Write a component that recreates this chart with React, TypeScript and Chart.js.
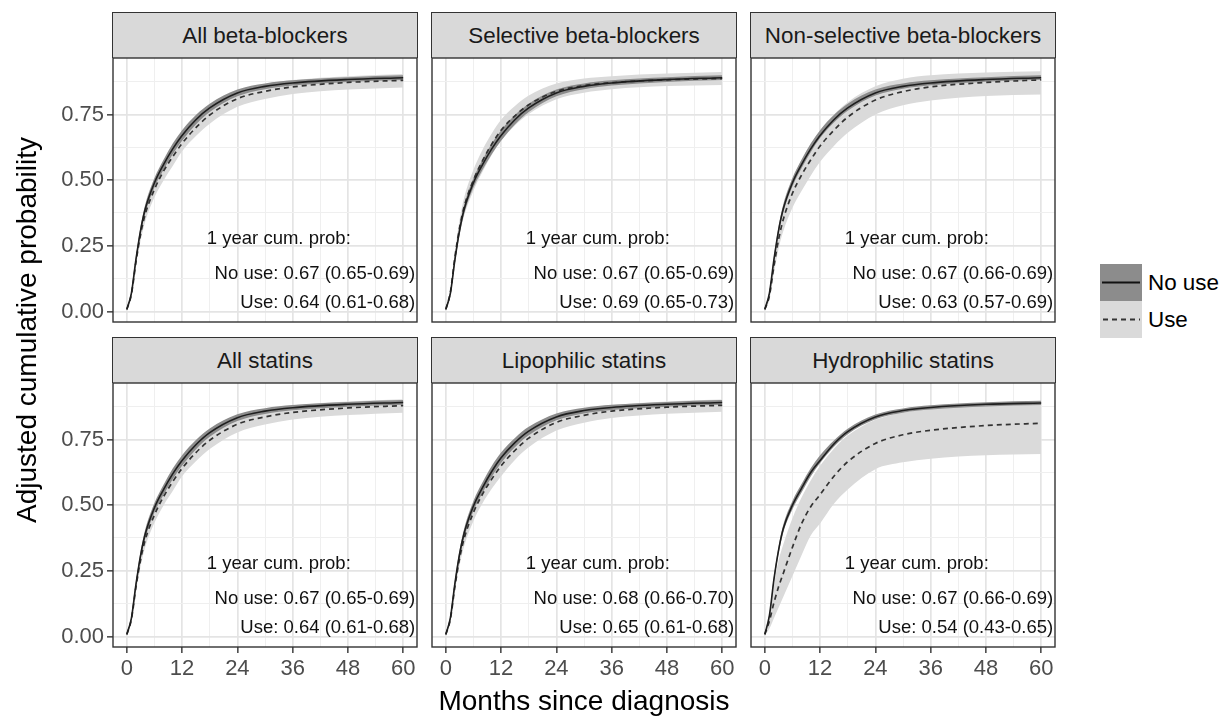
import React, { useEffect, useRef } from "react";
import { Chart, registerables } from "chart.js";
Chart.register(...registerables);

const FONT = '"Liberation Sans", Arial, Helvetica, sans-serif';

// ---------------- data ----------------
const MONTHS = [0, 1, 2, 3, 4, 6, 8, 10, 12, 15, 18, 24, 30, 36, 48, 60];

const PANEL_TITLES = [
  "All beta-blockers",
  "Selective beta-blockers",
  "Non-selective beta-blockers",
  "All statins",
  "Lipophilic statins",
  "Hydrophilic statins",
];

const ANNOT_HEADER = "1 year cum. prob:";
const NO_USE_LABELS = [
  "No use: 0.67 (0.65-0.69)",
  "No use: 0.67 (0.65-0.69)",
  "No use: 0.67 (0.66-0.69)",
  "No use: 0.67 (0.65-0.69)",
  "No use: 0.68 (0.66-0.70)",
  "No use: 0.67 (0.66-0.69)",
];
const USE_LABELS = [
  "Use: 0.64 (0.61-0.68)",
  "Use: 0.69 (0.65-0.73)",
  "Use: 0.63 (0.57-0.69)",
  "Use: 0.64 (0.61-0.68)",
  "Use: 0.65 (0.61-0.68)",
  "Use: 0.54 (0.43-0.65)",
];

// All beta-blockers
const BB_ALL_NOUSE = [0.008, 0.07, 0.2, 0.31, 0.39, 0.49, 0.56, 0.62, 0.67, 0.73, 0.775, 0.832, 0.857, 0.87, 0.883, 0.89];
const BB_ALL_NOUSE_LO = [0.006, 0.062, 0.188, 0.295, 0.373, 0.472, 0.541, 0.6, 0.65, 0.712, 0.759, 0.819, 0.846, 0.86, 0.874, 0.881];
const BB_ALL_NOUSE_HI = [0.01, 0.078, 0.212, 0.325, 0.407, 0.508, 0.579, 0.64, 0.69, 0.748, 0.791, 0.845, 0.868, 0.88, 0.892, 0.899];
const BB_ALL_USE = [0.008, 0.066, 0.19, 0.295, 0.37, 0.465, 0.535, 0.59, 0.64, 0.7, 0.748, 0.81, 0.838, 0.855, 0.872, 0.88];
const BB_ALL_USE_LO = [0.005, 0.056, 0.172, 0.27, 0.343, 0.435, 0.5, 0.555, 0.61, 0.668, 0.715, 0.779, 0.809, 0.828, 0.845, 0.853];
const BB_ALL_USE_HI = [0.011, 0.076, 0.208, 0.32, 0.397, 0.495, 0.57, 0.625, 0.68, 0.735, 0.781, 0.841, 0.866, 0.881, 0.896, 0.904];

// Selective beta-blockers
const SEL_NOUSE = [0.008, 0.07, 0.2, 0.31, 0.39, 0.49, 0.56, 0.62, 0.67, 0.73, 0.775, 0.832, 0.857, 0.87, 0.883, 0.89];
const SEL_NOUSE_LO = [0.006, 0.062, 0.188, 0.295, 0.373, 0.472, 0.541, 0.6, 0.65, 0.712, 0.759, 0.819, 0.846, 0.86, 0.874, 0.881];
const SEL_NOUSE_HI = [0.01, 0.078, 0.212, 0.325, 0.407, 0.508, 0.579, 0.64, 0.69, 0.748, 0.791, 0.845, 0.868, 0.88, 0.892, 0.899];
const SEL_USE = [0.008, 0.075, 0.21, 0.32, 0.4, 0.5, 0.575, 0.638, 0.69, 0.745, 0.787, 0.838, 0.86, 0.871, 0.882, 0.887];
const SEL_USE_LO = [0.005, 0.063, 0.188, 0.29, 0.365, 0.46, 0.533, 0.597, 0.65, 0.708, 0.752, 0.808, 0.833, 0.846, 0.858, 0.862];
const SEL_USE_HI = [0.011, 0.087, 0.232, 0.35, 0.435, 0.54, 0.617, 0.679, 0.73, 0.782, 0.822, 0.868, 0.887, 0.896, 0.906, 0.912];

// Non-selective beta-blockers
const NS_NOUSE = [0.008, 0.07, 0.2, 0.31, 0.39, 0.49, 0.56, 0.62, 0.67, 0.73, 0.775, 0.832, 0.857, 0.87, 0.883, 0.89];
const NS_NOUSE_LO = [0.006, 0.064, 0.19, 0.298, 0.377, 0.476, 0.546, 0.607, 0.66, 0.719, 0.764, 0.822, 0.848, 0.861, 0.875, 0.882];
const NS_NOUSE_HI = [0.01, 0.078, 0.212, 0.325, 0.407, 0.508, 0.579, 0.64, 0.69, 0.748, 0.791, 0.845, 0.868, 0.88, 0.892, 0.899];
const NS_USE = [0.008, 0.06, 0.175, 0.275, 0.35, 0.45, 0.52, 0.578, 0.63, 0.69, 0.74, 0.805, 0.837, 0.855, 0.872, 0.882];
const NS_USE_LO = [0.004, 0.045, 0.148, 0.24, 0.305, 0.395, 0.46, 0.518, 0.57, 0.63, 0.68, 0.75, 0.785, 0.803, 0.82, 0.826];
const NS_USE_HI = [0.012, 0.076, 0.203, 0.31, 0.395, 0.505, 0.58, 0.638, 0.69, 0.75, 0.797, 0.857, 0.886, 0.899, 0.91, 0.915];

// All statins
const ST_ALL_NOUSE = [0.008, 0.07, 0.2, 0.31, 0.39, 0.49, 0.56, 0.62, 0.67, 0.73, 0.776, 0.833, 0.858, 0.871, 0.884, 0.891];
const ST_ALL_NOUSE_LO = [0.006, 0.062, 0.188, 0.295, 0.373, 0.472, 0.541, 0.6, 0.65, 0.712, 0.76, 0.82, 0.847, 0.861, 0.875, 0.882];
const ST_ALL_NOUSE_HI = [0.01, 0.078, 0.212, 0.325, 0.407, 0.508, 0.579, 0.64, 0.69, 0.748, 0.792, 0.846, 0.869, 0.881, 0.893, 0.9];
const ST_ALL_USE = [0.008, 0.066, 0.19, 0.293, 0.368, 0.463, 0.533, 0.59, 0.64, 0.7, 0.747, 0.808, 0.836, 0.853, 0.87, 0.879];
const ST_ALL_USE_LO = [0.005, 0.056, 0.172, 0.268, 0.341, 0.433, 0.5, 0.555, 0.61, 0.667, 0.714, 0.777, 0.807, 0.826, 0.843, 0.852];
const ST_ALL_USE_HI = [0.011, 0.076, 0.208, 0.318, 0.395, 0.493, 0.568, 0.625, 0.68, 0.735, 0.78, 0.84, 0.865, 0.88, 0.895, 0.903];

// Lipophilic statins
const LIP_NOUSE = [0.008, 0.072, 0.205, 0.315, 0.395, 0.497, 0.568, 0.629, 0.68, 0.738, 0.782, 0.836, 0.86, 0.872, 0.884, 0.891];
const LIP_NOUSE_LO = [0.006, 0.064, 0.192, 0.299, 0.378, 0.478, 0.548, 0.608, 0.66, 0.72, 0.766, 0.823, 0.849, 0.862, 0.875, 0.882];
const LIP_NOUSE_HI = [0.01, 0.08, 0.218, 0.331, 0.412, 0.516, 0.588, 0.65, 0.7, 0.756, 0.798, 0.849, 0.871, 0.882, 0.893, 0.9];
const LIP_USE = [0.008, 0.067, 0.193, 0.298, 0.374, 0.472, 0.543, 0.6, 0.65, 0.708, 0.755, 0.815, 0.842, 0.858, 0.873, 0.88];
const LIP_USE_LO = [0.005, 0.057, 0.175, 0.272, 0.345, 0.44, 0.508, 0.563, 0.61, 0.672, 0.72, 0.784, 0.814, 0.832, 0.848, 0.856];
const LIP_USE_HI = [0.011, 0.077, 0.21, 0.322, 0.401, 0.502, 0.575, 0.632, 0.68, 0.738, 0.785, 0.843, 0.867, 0.881, 0.895, 0.902];

// Hydrophilic statins
const HYD_NOUSE = [0.008, 0.08, 0.22, 0.33, 0.41, 0.5, 0.565, 0.625, 0.67, 0.733, 0.78, 0.836, 0.86, 0.872, 0.884, 0.889];
const HYD_NOUSE_LO = [0.006, 0.073, 0.208, 0.316, 0.395, 0.484, 0.549, 0.61, 0.66, 0.722, 0.77, 0.827, 0.852, 0.864, 0.876, 0.881];
const HYD_NOUSE_HI = [0.01, 0.087, 0.232, 0.344, 0.425, 0.516, 0.581, 0.641, 0.69, 0.746, 0.791, 0.845, 0.868, 0.88, 0.892, 0.897];
const HYD_USE = [0.008, 0.06, 0.13, 0.19, 0.24, 0.34, 0.43, 0.495, 0.54, 0.61, 0.665, 0.735, 0.768, 0.785, 0.803, 0.812];
const HYD_USE_LO = [0.004, 0.03, 0.07, 0.11, 0.15, 0.23, 0.31, 0.385, 0.43, 0.505, 0.56, 0.637, 0.663, 0.677, 0.69, 0.695];
const HYD_USE_HI = [0.012, 0.09, 0.2, 0.29, 0.35, 0.45, 0.53, 0.595, 0.65, 0.715, 0.765, 0.825, 0.852, 0.866, 0.882, 0.89];

const PANEL_SERIES = [
  [BB_ALL_NOUSE, BB_ALL_NOUSE_LO, BB_ALL_NOUSE_HI, BB_ALL_USE, BB_ALL_USE_LO, BB_ALL_USE_HI],
  [SEL_NOUSE, SEL_NOUSE_LO, SEL_NOUSE_HI, SEL_USE, SEL_USE_LO, SEL_USE_HI],
  [NS_NOUSE, NS_NOUSE_LO, NS_NOUSE_HI, NS_USE, NS_USE_LO, NS_USE_HI],
  [ST_ALL_NOUSE, ST_ALL_NOUSE_LO, ST_ALL_NOUSE_HI, ST_ALL_USE, ST_ALL_USE_LO, ST_ALL_USE_HI],
  [LIP_NOUSE, LIP_NOUSE_LO, LIP_NOUSE_HI, LIP_USE, LIP_USE_LO, LIP_USE_HI],
  [HYD_NOUSE, HYD_NOUSE_LO, HYD_NOUSE_HI, HYD_USE, HYD_USE_LO, HYD_USE_HI],
];

const X_TICKS = [0, 6, 12, 18, 24, 30, 36, 42, 48, 54, 60];
const X_MAJOR = [0, 12, 24, 36, 48, 60];
const Y_TICKS = [0, 0.125, 0.25, 0.375, 0.5, 0.625, 0.75, 0.875];
const Y_MAJOR = [0, 0.25, 0.5, 0.75];
const Y_MAJOR_LABELS = ["0.00", "0.25", "0.50", "0.75"];

// ---------------- layout / style ----------------
const COL_X = [113, 432, 751];
const ROW_Y = [12, 337];
const STRIP_H = 46;
const PLOT_W = 304;
const PLOT_H = 264;
const X_MIN = -3, X_MAX = 63;
const Y_MIN = -0.04, Y_MAX = 0.965;

const GRID_MAJOR = "#e4e4e4";
const GRID_MINOR = "#efefef";
const NOUSE_FILL = "#8c8c8c";
const USE_FILL = "#dadada";
const DARK = "#333333";

const isMajorX = (v: number) => X_MAJOR.some((m) => Math.abs(m - v) < 1e-9);
const isMajorY = (v: number) => Y_MAJOR.some((m) => Math.abs(m - v) < 1e-9);

const borderPlugin = {
  id: "panelBorder",
  afterDraw(chart: any) {
    const { ctx, chartArea: a } = chart;
    ctx.save();
    ctx.strokeStyle = DARK;
    ctx.lineWidth = 1.4;
    ctx.strokeRect(a.left, a.top, a.right - a.left, a.bottom - a.top);
    ctx.restore();
  },
};

const makeAnnotPlugin = (idx: number) => ({
  id: "annot",
  afterDatasetsDraw(chart: any) {
    const { ctx } = chart;
    const x = chart.scales.x;
    const y = chart.scales.y;
    ctx.save();
    ctx.font = `18.5px ${FONT}`;
    ctx.fillStyle = "#111";
    ctx.textBaseline = "middle";
    ctx.textAlign = "center";
    ctx.fillText(ANNOT_HEADER, x.getPixelForValue(33), y.getPixelForValue(0.278));
    ctx.textAlign = "right";
    ctx.fillText(NO_USE_LABELS[idx], x.getPixelForValue(62.6), y.getPixelForValue(0.143));
    ctx.fillText(USE_LABELS[idx], x.getPixelForValue(62.6), y.getPixelForValue(0.031));
    ctx.restore();
  },
});

function Panel({ idx }: { idx: number }) {
  const ref = useRef<HTMLCanvasElement>(null);
  const row = Math.floor(idx / 3);
  const col = idx % 3;
  const leftM = col === 0 ? 72 : 2;
  const bottomM = row === 1 ? 44 : 2;
  const plotLeft = COL_X[col];
  const plotTop = ROW_Y[row] + STRIP_H;
  const cw = PLOT_W + leftM + 2;
  const ch = PLOT_H + 2 + bottomM;

  useEffect(() => {
    const [nu, nuLo, nuHi, u, uLo, uHi] = PANEL_SERIES[idx];
    const pts = (ys: number[]) => MONTHS.map((m, i) => ({ x: m, y: ys[i] }));
    const base = { pointRadius: 0, cubicInterpolationMode: "monotone" as const };
    const chart = new Chart(ref.current as HTMLCanvasElement, {
      type: "line",
      data: {
        datasets: [
          { ...base, label: "useLo", data: pts(uLo), borderColor: "rgba(0,0,0,0)", borderWidth: 1, fill: false, order: 3 },
          { ...base, label: "useHi", data: pts(uHi), borderColor: "rgba(0,0,0,0)", borderWidth: 1, fill: "-1", backgroundColor: USE_FILL, order: 3 },
          { ...base, label: "noLo", data: pts(nuLo), borderColor: "rgba(0,0,0,0)", borderWidth: 1, fill: false, order: 2 },
          { ...base, label: "noHi", data: pts(nuHi), borderColor: "rgba(0,0,0,0)", borderWidth: 1, fill: "-1", backgroundColor: NOUSE_FILL, order: 2 },
          { ...base, label: "Use", data: pts(u), borderColor: DARK, borderWidth: 1.7, borderDash: [5, 4], fill: false, order: 1 },
          { ...base, label: "No use", data: pts(nu), borderColor: "#1e1e1e", borderWidth: 1.6, fill: false, order: 0 },
        ],
      },
      options: {
        animation: false,
        responsive: false,
        events: [],
        layout: { padding: { top: 2, right: 2, left: 0, bottom: 0 } },
        plugins: { legend: { display: false }, tooltip: { enabled: false } },
        scales: {
          x: {
            type: "linear",
            min: X_MIN,
            max: X_MAX,
            afterBuildTicks: (a: any) => {
              a.ticks = X_TICKS.map((v) => ({ value: v }));
            },
            afterFit: (s: any) => {
              s.height = bottomM;
              s.paddingLeft = 0;
              s.paddingRight = 0;
            },
            border: { display: false },
            grid: {
              color: (c: any) => (c.tick && isMajorX(c.tick.value) ? GRID_MAJOR : GRID_MINOR),
              lineWidth: (c: any) => (c.tick && isMajorX(c.tick.value) ? 1.7 : 1),
              drawTicks: row === 1,
              tickLength: 6,
              tickWidth: 1.4,
              tickColor: (c: any) => (c.tick && isMajorX(c.tick.value) ? DARK : "rgba(0,0,0,0)"),
            },
            ticks: {
              display: row === 1,
              autoSkip: false,
              maxRotation: 0,
              padding: 3,
              color: "#4d4d4d",
              font: { family: FONT, size: 22 },
              callback: (v: any) => (isMajorX(Number(v)) ? String(v) : ""),
            },
          },
          y: {
            type: "linear",
            min: Y_MIN,
            max: Y_MAX,
            afterBuildTicks: (a: any) => {
              a.ticks = Y_TICKS.map((v) => ({ value: v }));
            },
            afterFit: (s: any) => {
              s.width = leftM;
              s.paddingTop = 0;
              s.paddingBottom = 0;
            },
            border: { display: false },
            grid: {
              color: (c: any) => (c.tick && isMajorY(c.tick.value) ? GRID_MAJOR : GRID_MINOR),
              lineWidth: (c: any) => (c.tick && isMajorY(c.tick.value) ? 1.7 : 1),
              drawTicks: col === 0,
              tickLength: 6,
              tickWidth: 1.4,
              tickColor: (c: any) => (c.tick && isMajorY(c.tick.value) ? DARK : "rgba(0,0,0,0)"),
            },
            ticks: {
              display: col === 0,
              autoSkip: false,
              padding: 3,
              color: "#4d4d4d",
              font: { family: FONT, size: 22 },
              callback: (v: any) => {
                const k = Y_MAJOR.findIndex((m) => Math.abs(m - Number(v)) < 1e-9);
                return k >= 0 ? Y_MAJOR_LABELS[k] : "";
              },
            },
          },
        },
      },
      plugins: [makeAnnotPlugin(idx), borderPlugin],
    } as any);
    return () => chart.destroy();
  }, [idx]);

  return (
    <>
      <div
        style={{
          position: "absolute",
          left: plotLeft - 0.7,
          top: ROW_Y[row],
          width: PLOT_W + 1.4,
          height: STRIP_H,
          boxSizing: "border-box",
          borderTop: `1.4px solid ${DARK}`,
          borderLeft: `1.4px solid ${DARK}`,
          borderRight: `1.4px solid ${DARK}`,
          background: "#d9d9d9",
          color: "#1a1a1a",
          fontSize: 22.4,
          display: "flex",
          alignItems: "center",
          justifyContent: "center",
          whiteSpace: "nowrap",
        }}
      >
        {PANEL_TITLES[idx]}
      </div>
      <canvas
        ref={ref}
        width={cw}
        height={ch}
        style={{ position: "absolute", left: plotLeft - leftM, top: plotTop - 2, width: cw, height: ch }}
      />
    </>
  );
}

export default function App() {
  return (
    <div
      style={{
        position: "fixed",
        left: 0,
        top: 0,
        width: 1223,
        height: 718,
        background: "#ffffff",
        fontFamily: FONT,
        overflow: "hidden",
      }}
    >
      {PANEL_TITLES.map((_, i) => (
        <Panel key={i} idx={i} />
      ))}

      {/* y-axis title */}
      <div
        style={{
          position: "absolute",
          left: 27 - 300,
          top: 330 - 16,
          width: 600,
          height: 32,
          lineHeight: "32px",
          textAlign: "center",
          fontSize: 28,
          color: "#000",
          transform: "rotate(-90deg)",
          whiteSpace: "nowrap",
        }}
      >
        Adjusted cumulative probability
      </div>

      {/* x-axis title */}
      <div
        style={{
          position: "absolute",
          left: 584 - 300,
          top: 686,
          width: 600,
          height: 30,
          lineHeight: "30px",
          textAlign: "center",
          fontSize: 28,
          color: "#000",
          whiteSpace: "nowrap",
        }}
      >
        Months since diagnosis
      </div>

      {/* legend */}
      <div style={{ position: "absolute", left: 1100, top: 264, width: 42, height: 37, background: NOUSE_FILL }}>
        <svg width={42} height={37} style={{ position: "absolute", left: 0, top: 0 }}>
          <line x1={2} y1={18.5} x2={40} y2={18.5} stroke="#111" strokeWidth={2} />
        </svg>
      </div>
      <div style={{ position: "absolute", left: 1100, top: 301, width: 42, height: 37, background: USE_FILL }}>
        <svg width={42} height={37} style={{ position: "absolute", left: 0, top: 0 }}>
          <line x1={3} y1={18.5} x2={40} y2={18.5} stroke={DARK} strokeWidth={1.8} strokeDasharray="5 4" />
        </svg>
      </div>
      <div style={{ position: "absolute", left: 1148, top: 264, height: 37, lineHeight: "37px", fontSize: 22.4, color: "#000", whiteSpace: "nowrap" }}>
        No use
      </div>
      <div style={{ position: "absolute", left: 1148, top: 301, height: 37, lineHeight: "37px", fontSize: 22.4, color: "#000", whiteSpace: "nowrap" }}>
        Use
      </div>
    </div>
  );
}
